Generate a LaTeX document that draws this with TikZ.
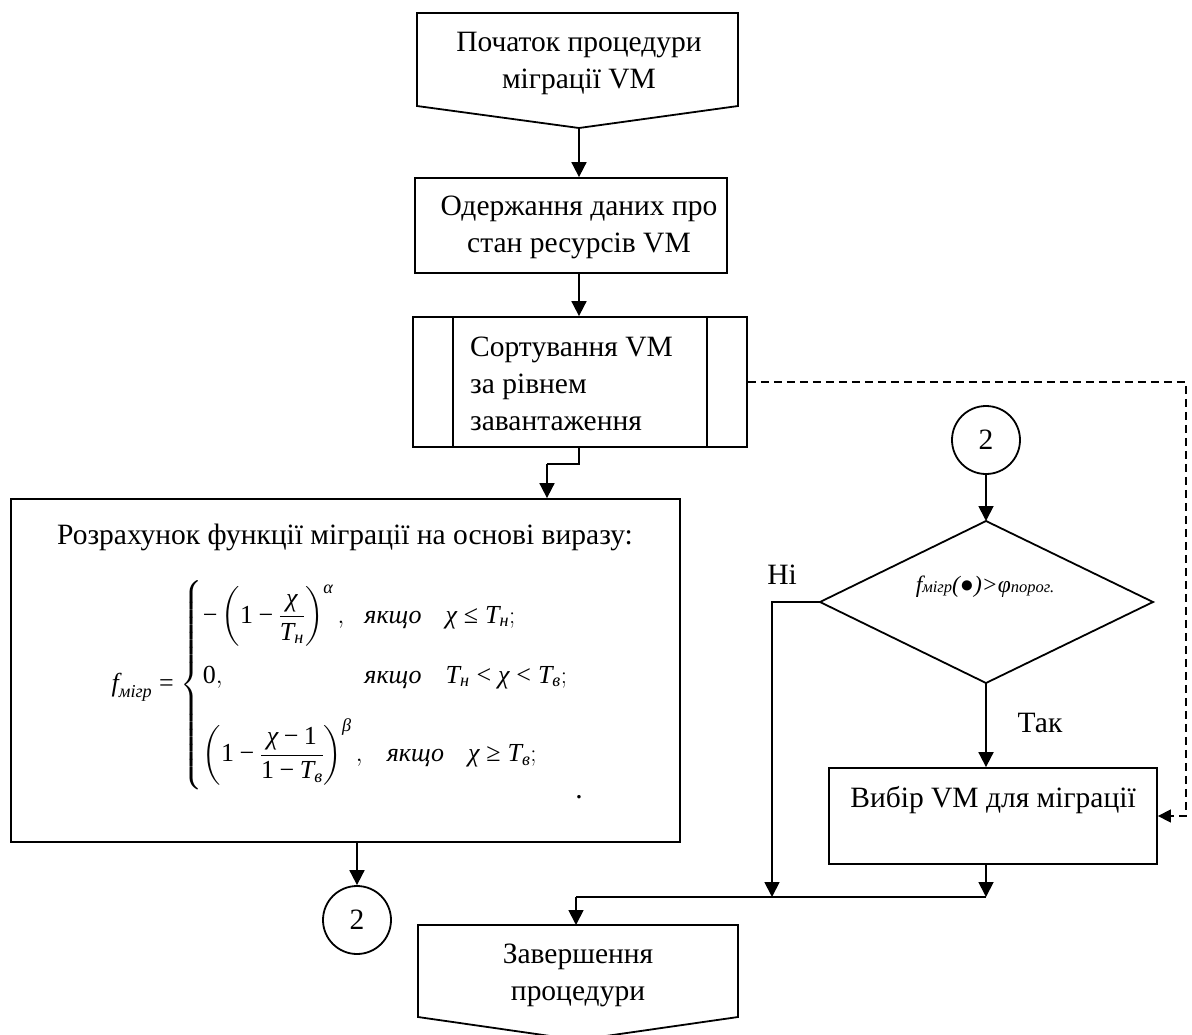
\documentclass[tikz,border=0pt]{standalone}
\usepackage{amsmath}
\usepackage{fontspec}
\setmainfont{Liberation Serif}
\usetikzlibrary{arrows.meta,calc}
\newcommand{\ti}[1]{\textit{#1}}
\newcommand{\tu}[1]{\textup{#1}}
\newcommand{\mn}{\mathbin{\textup{−}}}
\newcommand{\rl}[1]{\mathrel{\textup{#1}}}
\tikzset{
  ln/.style={line width=1.8pt},
  arr/.style={line width=1.8pt,-{Triangle[length=15pt,width=15pt]}},
  darr/.style={line width=1.5pt,dash pattern=on 8pt off 5pt,-{Triangle[length=13pt,width=13pt]}},
  boxn/.style={draw,line width=1.8pt,inner sep=0pt},
  txt/.style={font=\fontsize{29.5}{37}\selectfont,align=center,inner sep=0pt},
  conn/.style={draw,circle,line width=1.8pt,minimum size=68pt,inner sep=0pt,font=\fontsize{29.5}{34}\selectfont},
}
\begin{document}
\begin{tikzpicture}[x=1pt,y=-1pt]
\useasboundingbox[fill=white] (0,0) rectangle (1192,1034);
% start pentagon
\coordinate (sB) at (579,128);
\draw[ln,line join=miter] (417,13) -- (738,13) -- (738,106) -- (sB) -- (417,106) -- cycle;
\node[txt] (startT) at (579,63) {Початок процедури\\міграції VM};
% get data
\node[boxn,minimum width=312pt,minimum height=95pt] (get) at (571,225.5) {};
\node[txt] (getT) at (579,227) {Одержання даних про\\стан ресурсів VM};
\draw[arr] (sB) -- (sB |- get.north);
% sort
\node[boxn,minimum width=334pt,minimum height=130pt] (sort) at (580,382) {};
\draw[ln] ($(sort.north west)+(41,0)$) -- ($(sort.south west)+(41,0)$);
\draw[ln] ($(sort.north east)+(-41,0)$) -- ($(sort.south east)+(-41,0)$);
\node[txt,align=left,anchor=west] (sortT) at (470,384) {Сортування VM\\за рівнем\\завантаження};
\coordinate (gB) at (579,273);
\draw[arr] (gB) -- (gB |- sort.north);
% formula box
\node[boxn,minimum width=669pt,minimum height=343pt] (form) at (345.5,670.5) {};
\node[txt] (ftitle) at (345,537) {Розрахунок функції міграції на основі виразу:};
\node[inner sep=0pt,font=\fontsize{26}{30}\selectfont] (fml) at (340,685) {$
\ti{f}_{\ti{мігр}} \rl{=} \left\{\begin{array}{@{}l@{\hspace{20pt}}l@{\hspace{24pt}}l@{}}
\mn\left(\tu{1}\mn\dfrac{\ti{χ}}{\ti{T}_{\ti{н}}}\right)^{\ti{α}}, & \ti{якщо} & \ti{χ}\rl{≤}\ti{T}_{\ti{н}};\\[30pt]
\tu{0}, & \ti{якщо} & \ti{T}_{\ti{н}}\rl{<}\ti{χ}\rl{<}\ti{T}_{\ti{в}};\\[27pt]
\multicolumn{3}{@{}l@{}}{\left(\tu{1}\mn\dfrac{\ti{χ}\mn\tu{1}}{\tu{1}\mn\ti{T}_{\ti{в}}}\right)^{\ti{β}},\hspace{20pt}\ti{якщо}\hspace{24pt}\ti{χ}\rl{≥}\ti{T}_{\ti{в}};}
\end{array}\right.$};
\node[txt] (dot) at (579,797) {.};
\coordinate (j1) at (579,464);
\coordinate (j2) at (547,464);
\draw[ln] (sort.south -| j1) -- (j1) -- (j2);
\draw[arr] (j2) -- (j2 |- form.north);
% connector 2 left
\node[conn] (c2a) at (357,920) {2};
\draw[arr] (form.south -| c2a) -- (c2a.north);
% end pentagon
\coordinate (eT) at (576,925);
\draw[ln,line join=miter] (418,925) -- (738,925) -- (738,1017) -- (578,1040) -- (418,1017) -- cycle;
\node[txt] (endT) at (578,975) {Завершення\\процедури};
% connector 2 right
\node[conn] (c2b) at (986,440) {2};
% diamond
\coordinate (dN) at (986,521);
\coordinate (dW) at (820,602);
\coordinate (dE) at (1153,602);
\coordinate (dS) at (986,683);
\draw[ln] (dN) -- (dE) -- (dS) -- (dW) -- cycle;
\node[inner sep=0pt] (dT) at (985,587) {\itshape\fontsize{23.5}{26}\selectfont f{\fontsize{16.5}{18}\selectfont мігр}(●)>φ{\fontsize{16.5}{18}\selectfont порог.}};
\draw[arr] (c2b.south) -- (dN);
\node[txt] (no) at (782,575) {Ні};
\node[txt] (yes) at (1040,723) {Так};
% select
\node[boxn,minimum width=328pt,minimum height=96pt] (sel) at (993,816) {};
\node[txt] (selT) at (993,800) {Вибір VM для міграції};
\draw[arr] (dS) -- (dS |- sel.north);
% merge
\coordinate (mR) at (986,897);
\coordinate (mL) at (772,897);
\coordinate (mE) at (576,897);
\draw[arr] (dW) -- (772,602) -- (mL);
\draw[arr] (sel.south -| mR) -- (mR);
\draw[ln] (mR) -- (mE);
\draw[arr] (mE) -- (eT);
% dashed
\coordinate (dc) at (1186,382);
\draw[darr] (sort.east) -- (dc) |- (sel.east);
\end{tikzpicture}
\end{document}
